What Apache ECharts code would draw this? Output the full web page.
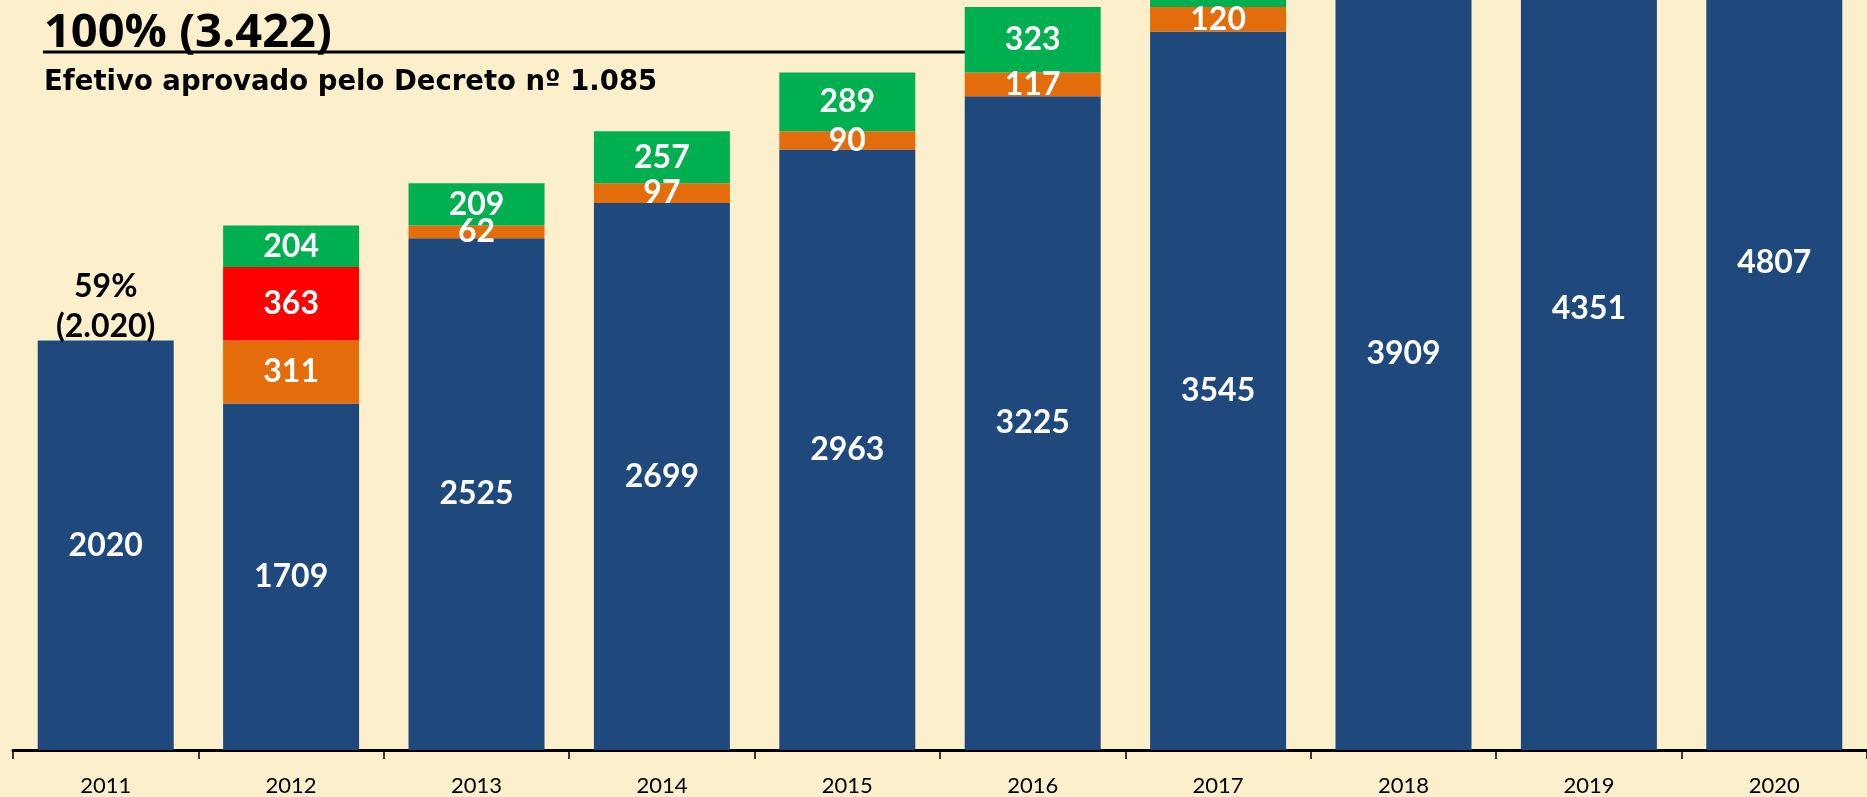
<!DOCTYPE html>
<html lang="pt">

<head>
    <meta charset="UTF-8">
    <title>Efetivo aprovado pelo Decreto nº 1.085</title>
    <script src="https://cdn.jsdelivr.net/npm/echarts@6/dist/echarts.min.js"></script>
    <style>
        html, body { margin: 0; padding: 0; background: #FCEFCC; }
    </style>
</head>

<body>
    <div id="container" style="width: 1867px; height: 797px;"></div>
    <script>
        // anos no eixo x
        var anos = ['2011', '2012', '2013', '2014', '2015', '2016', '2017', '2018', '2019', '2020'];
        // base (azul)
        var efetivoBase = [2020, 1709, 2525, 2699, 2963, 3225, 3545, 3909, 4351, 4807];
        // laranja
        var efetivoLaranja = [null, 311, 62, 97, 90, 117, 120, null, null, null];
        // vermelho
        var efetivoVermelho = [null, 363, null, null, null, null, null, null, null, null];
        // verde (2017 cortado no topo, valor estimado)
        var efetivoVerde = [null, 204, 209, 257, 289, 323, 350, null, null, null];
        // rótulo acima da barra de 2011
        var rotuloTopo = ['59%\n(2.020)', null, null, null, null, null, null, null, null, null];

        var fonte = 'Lato';
        var fonteTitulo = 'Open Sans';

        var rotuloBarra = {
            show: true,
            position: 'inside',
            color: '#fff',
            fontFamily: fonte,
            fontWeight: 'bold',
            fontSize: 32
        };

        function serieBarra(nome, dados, cor) {
            return {
                name: nome,
                type: 'bar',
                stack: 'total',
                barWidth: 136,
                clip: false,
                itemStyle: { color: cor },
                label: rotuloBarra,
                data: dados
            };
        }

        var verdeDados = efetivoVerde.map(function (v, i) {
            // o valor de 2017 some no topo, sem rótulo
            if (i === 6) return { value: v, label: { show: false } };
            return v;
        });

        var myCharts = echarts.init(document.querySelector('#container'));
        myCharts.setOption({
            backgroundColor: '#FCEFCC',
            animation: false,
            title: [{
                text: '100% (3.422)',
                left: 44,
                top: 10,
                padding: 0,
                textStyle: { fontFamily: fonteTitulo, fontWeight: 'bold', fontSize: 47, color: '#000' }
            }, {
                text: 'Efetivo aprovado pelo Decreto nº 1.085',
                left: 44,
                top: 69,
                padding: 0,
                textStyle: { fontFamily: 'DejaVu Sans', fontWeight: 'bold', fontSize: 27.5, color: '#000' }
            }],
            graphic: [{
                type: 'line',
                shape: { x1: 43, y1: 52, x2: 966, y2: 52 },
                style: { stroke: '#000', lineWidth: 3 }
            }],
            grid: { left: 13, right: 0, top: 0, bottom: 47 },
            xAxis: {
                type: 'category',
                data: anos,
                axisLine: { lineStyle: { color: '#000', width: 3 } },
                axisTick: { show: true, length: 9, lineStyle: { color: '#000', width: 1.5 } },
                axisLabel: { color: '#000', fontFamily: fonte, fontSize: 22, margin: 25 }
            },
            yAxis: {
                type: 'value',
                min: 0,
                max: 3700,
                show: false,
                splitLine: { show: false }
            },
            series: [
                serieBarra('Base', efetivoBase, '#1F497D'),
                serieBarra('Laranja', efetivoLaranja, '#E46C0A'),
                serieBarra('Vermelho', efetivoVermelho, '#FF0000'),
                {
                    name: 'Verde',
                    type: 'bar',
                    stack: 'total',
                    barWidth: 136,
                    clip: false,
                    itemStyle: { color: '#00B050' },
                    label: rotuloBarra,
                    data: verdeDados
                },
                {
                    name: 'Rótulo',
                    type: 'scatter',
                    symbolSize: 0,
                    silent: true,
                    itemStyle: { opacity: 1 },
                    data: efetivoBase.map(function (v, i) { return rotuloTopo[i] ? v : null; }),
                    label: {
                        show: true,
                        position: 'top',
                        distance: -6,
                        color: '#000',
                        opacity: 1,
                        fontFamily: fonte,
                        fontWeight: 'bold',
                        fontSize: 32,
                        lineHeight: 40,
                        formatter: function (p) { return rotuloTopo[p.dataIndex]; }
                    }
                }
            ]
        });
    </script>
</body>

</html>
